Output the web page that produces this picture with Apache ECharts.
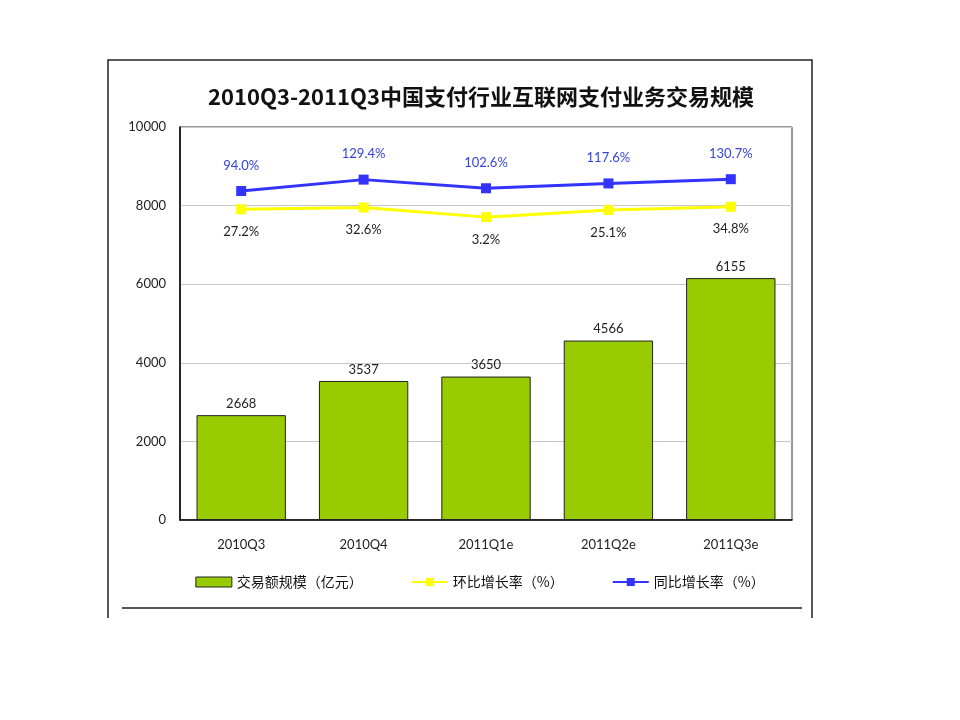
<!DOCTYPE html>
<html><head><meta charset="utf-8">
<script src="https://cdn.jsdelivr.net/npm/echarts@6/dist/echarts.min.js"></script>
<style>html,body{margin:0;padding:0;background:#fff}#c{width:960px;height:720px}</style>
</head><body><div id="c"></div>
<script>
const categories = ['2010Q3','2010Q4','2011Q1e','2011Q2e','2011Q3e'];
const volume = [2668, 3537, 3650, 4566, 6155];
const qoq = [27.2, 32.6, 3.2, 25.1, 34.8];
const yoy = [94.0, 129.4, 102.6, 117.6, 130.7];
const yTicks = [0, 2000, 4000, 6000, 8000, 10000];
const seriesNames = ['交易额规模（亿元）', '环比增长率（%）', '同比增长率（%）'];
const titleText = '2010Q3-2011Q3中国支付行业互联网支付业务交易规模';

const font = 'Lato, "Noto Sans CJK SC", sans-serif';
const chart = echarts.init(document.getElementById('c'));
chart.setOption({
  animation: false,
  backgroundColor: '#fff',
  title: {
    text: titleText, left: 476, top: 81, textAlign: 'center',
    textStyle: {fontFamily: '"Noto Sans CJK SC", sans-serif', fontSize: 22, fontWeight: 'bold', color: '#111'}
  },
  graphic: [
    {type: 'polyline', shape: {points: [[108, 618], [108, 60], [812, 60], [812, 618]]}, style: {stroke: '#222', lineWidth: 1.5, fill: null}, silent: true},
    {type: 'line', shape: {x1: 122, y1: 608, x2: 802, y2: 608}, style: {stroke: '#555', lineWidth: 2}, silent: true}
  ],
  legend: {
    top: 570, left: 'center', itemGap: 48, itemWidth: 36, itemHeight: 10,
    textStyle: {fontFamily: '"Noto Sans CJK SC", sans-serif', fontSize: 14, color: '#111'},
    data: [
      {name: seriesNames[0], icon: 'rect', itemStyle: {color: '#99cc00', borderColor: '#222', borderWidth: 1}},
      {name: seriesNames[1]},
      {name: seriesNames[2]}
    ]
  },
  grid: {left: 180, right: 168, top: 127, height: 393, show: true, borderColor: '#333', borderWidth: 1},
  xAxis: {
    type: 'category', data: categories,
    axisLine: {lineStyle: {color: '#000', width: 1.5}},
    axisTick: {show: false},
    axisLabel: {fontFamily: font, fontSize: 13, color: '#222', margin: 18}
  },
  yAxis: [
    {
      type: 'value', min: yTicks[0], max: yTicks[yTicks.length - 1], interval: 2000,
      axisLine: {show: true, lineStyle: {color: '#000', width: 1.5}},
      axisTick: {show: false},
      axisLabel: {fontFamily: font, fontSize: 13, color: '#222', margin: 14, formatter: v => String(v)},
      splitLine: {lineStyle: {color: '#c8c8c8', width: 1}}
    },
    {type: 'value', show: false, min: -921.6, max: 278.4, splitLine: {show: false}},
    {type: 'value', show: false, min: -926.8, max: 292.7, splitLine: {show: false}}
  ],
  series: [
    {
      name: seriesNames[0], type: 'bar', data: volume, barCategoryGap: '27%',
      itemStyle: {color: '#99cc00', borderColor: '#222', borderWidth: 1},
      label: {show: true, position: 'top', distance: 5, fontFamily: font, fontSize: 13, color: '#222'}
    },
    {
      name: seriesNames[1], type: 'line', yAxisIndex: 1, data: qoq,
      symbol: 'rect', symbolSize: 10, lineStyle: {color: '#ffff00', width: 3},
      itemStyle: {color: '#ffff00'},
      label: {show: true, position: 'bottom', distance: 11, fontFamily: font, fontSize: 13, color: '#222', formatter: p => p.value.toFixed(1) + '%'}
    },
    {
      name: seriesNames[2], type: 'line', yAxisIndex: 2, data: yoy,
      symbol: 'rect', symbolSize: 10, lineStyle: {color: '#3333ff', width: 3},
      itemStyle: {color: '#3333ff'},
      label: {show: true, position: 'top', distance: 14, fontFamily: font, fontSize: 13, color: '#3344dd', formatter: p => p.value.toFixed(1) + '%'}
    }
  ]
});
</script></body></html>
